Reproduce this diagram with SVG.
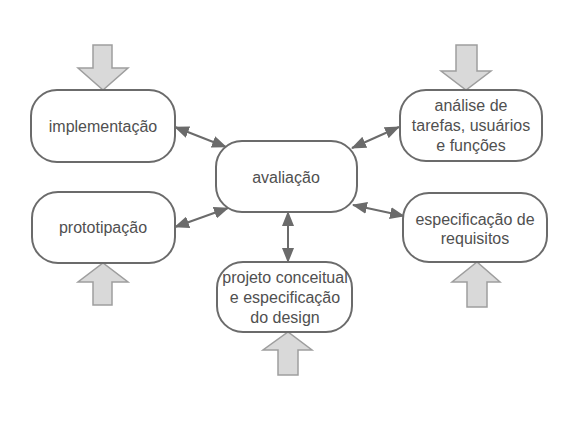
<svg xmlns="http://www.w3.org/2000/svg" width="576" height="434" viewBox="0 0 576 434">
<style>
.node{fill:#fff;stroke:#6b6b6b;stroke-width:2}
.in{fill:#d9d9d9;stroke:#9e9e9e;stroke-width:1.5}
.t{font-family:"Liberation Sans",Arial,sans-serif;font-size:16px;fill:#505050;text-anchor:middle}
.c{stroke:#6b6b6b;stroke-width:2;fill:none;marker-start:url(#a);marker-end:url(#a)}
</style>
<defs>
<marker id="a" viewBox="0 0 15 12" refX="14" refY="6" markerWidth="15" markerHeight="12" orient="auto-start-reverse" markerUnits="userSpaceOnUse">
<path d="M0,0 L15,6 L0,12 z" fill="#6b6b6b"/>
</marker>
</defs>
<rect width="576" height="434" fill="#fff"/>
<g id="inputs">
<path class="in" d="M93,45 H112 V68 H128 L103,90 L78,68 H93 Z"/>
<path class="in" d="M456,45 H477 V71 H491 L466,90 L441,71 H456 Z"/>
<path class="in" d="M93,305 H112 V282 H128 L103,263 L78,282 H93 Z"/>
<path class="in" d="M467,307 H487 V282 H500 L477,262 L452,282 H467 Z"/>
<path class="in" d="M278,375 H298 V350 H312 L288,332 L263,350 H278 Z"/>
</g>
<g id="connectors">
<line class="c" x1="175" y1="127" x2="226" y2="147"/>
<line class="c" x1="399" y1="127" x2="352" y2="148"/>
<line class="c" x1="175" y1="227" x2="228" y2="208"/>
<line class="c" x1="404" y1="216" x2="353" y2="205"/>
<line class="c" x1="288" y1="212" x2="288" y2="262"/>
</g>
<g id="implementacao">
<rect class="node" x="31" y="90" width="144" height="72" rx="26"/>
<text class="t" x="103" y="132">implementação</text>
</g>
<g id="analise">
<rect class="node" x="400" y="90" width="142" height="71" rx="26"/>
<text class="t" x="471" y="111">análise de</text>
<text class="t" x="471" y="131">tarefas, usuários</text>
<text class="t" x="471" y="151">e funções</text>
</g>
<g id="avaliacao">
<rect class="node" x="216" y="141" width="141" height="71" rx="26"/>
<text class="t" x="286" y="183">avaliação</text>
</g>
<g id="prototipacao">
<rect class="node" x="32" y="192" width="143" height="71" rx="26"/>
<text class="t" x="103" y="233">prototipação</text>
</g>
<g id="especificacao">
<rect class="node" x="403" y="193" width="144" height="69" rx="26"/>
<text class="t" x="475" y="225">especificação de</text>
<text class="t" x="475" y="244">requisitos</text>
</g>
<g id="projeto">
<rect class="node" x="217" y="262" width="135" height="70" rx="26"/>
<text class="t" x="285" y="283">projeto conceitual</text>
<text class="t" x="285" y="303">e especificação</text>
<text class="t" x="285" y="323">do design</text>
</g>
</svg>
